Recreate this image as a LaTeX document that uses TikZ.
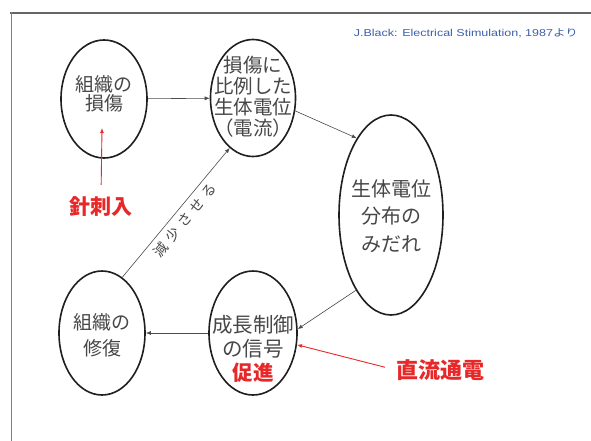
\documentclass[tikz,border=0pt]{standalone}
\usepackage{fontspec}
\usepackage{graphicx}
\setmainfont{Liberation Sans}
\newfontfamily\cjk{Noto Sans CJK JP}
\usetikzlibrary{shapes.geometric,arrows.meta}
\definecolor{redtxt}{RGB}{232,40,40}
\definecolor{citeblue}{RGB}{60,95,175}
\begin{document}
\begin{tikzpicture}[x=1pt,y=-1pt,
  bub/.style={ellipse,draw=black!88,line width=1.6pt,inner sep=0pt},
  jtxt/.style={font=\cjk\fontsize{19}{26}\selectfont,text=black!72,align=center,inner sep=0pt},
  redlab/.style={font=\cjk\bfseries\fontsize{21}{24}\selectfont,text=redtxt,inner sep=0pt},
  conn/.style={draw=black!70,line width=0.6pt,-{Latex[length=5pt,width=4pt]}},
  redarr/.style={draw=redtxt,line width=0.9pt,-{Latex[length=5pt,width=4pt]}}
]
\useasboundingbox (0,0) rectangle (591,441);
\fill[white] (0,0) rectangle (591,441);
% slide frame
\draw[line width=2.2pt,black!60] (10,13) -- (591,13);
\draw[line width=1.8pt,black!50] (11.5,12) -- (11.5,441);

% citation
\node[font=\fontsize{10}{10}\selectfont,text=citeblue,anchor=east,inner sep=0pt] (cite) at (578,33)
  {\scalebox{1.25}[1]{J.Black: Electrical Stimulation, 1987{\cjk より}}};

% ellipses
\node[bub,minimum width=86pt,minimum height=118pt] (e1) at (104,99) {};
\node[bub,minimum width=85pt,minimum height=117pt] (e2) at (253,98) {};
\node[bub,minimum width=104pt,minimum height=200pt] (e3) at (391,215) {};
\node[bub,minimum width=86pt,minimum height=124pt] (e4) at (102,333) {};
\node[bub,minimum width=88pt,minimum height=124pt] (e5) at (253,333) {};

% texts
\node[jtxt,font=\cjk\fontsize{19}{19}\selectfont] (t1) at (104,94) {組織の\\損傷};
\node[jtxt,font=\cjk\fontsize{19.5}{21}\selectfont] (t2) at (253,97) {損傷に\\比例した\\生体電位\\（電流）};
\node[jtxt,font=\cjk\fontsize{20}{27.5}\selectfont] (t3) at (391,216) {生体電位\\分布の\\みだれ};
\node[jtxt,font=\cjk\fontsize{19}{26}\selectfont] (t4) at (102,335) {組織の\\修復};
\node[jtxt,font=\cjk\fontsize{20.5}{24}\selectfont] (t5) at (253,349) {成長制御\\の信号\\{\color{redtxt}\bfseries 促進}};

% red labels
\node[redlab] (needle) at (101,207) {針刺入};
\node[redlab,font=\cjk\bfseries\fontsize{22}{24}\selectfont] (dc) at (440,370) {直流通電};
\coordinate (pin) at (102,128);

% connectors
\draw[conn] (e1) -- (e2);
\draw[conn] (e2.-17) -- (e3.114);
\draw[conn] (e3.245) -- (e5.5);
\draw[conn] (e5) -- (e4);
\draw[conn] (e4.70) -- node[sloped,below,pos=0.5,font=\cjk\fontsize{14}{14}\selectfont,text=black!72,inner sep=5pt] (lbl) {減\hspace{5pt}少\hspace{5pt}さ\hspace{5pt}せ\hspace{5pt}る} (e2.245);

% red arrows
\draw[redarr,shorten <=12pt] (needle.north) -- (pin);
\draw[redarr,shorten <=11pt] (dc.west) -- (e5.-15);
\end{tikzpicture}
\end{document}
